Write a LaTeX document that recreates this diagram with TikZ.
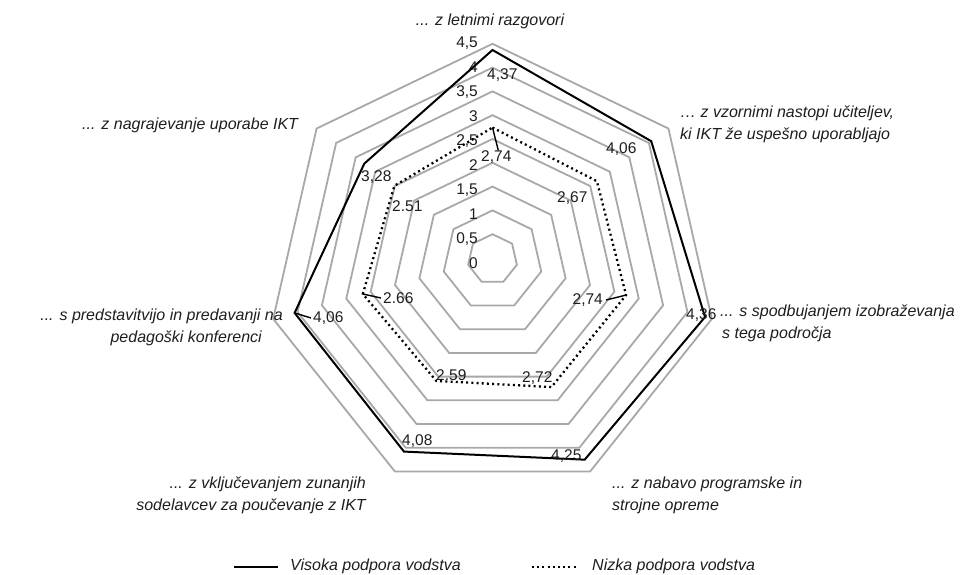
\documentclass[tikz,border=0pt]{standalone}
\usepackage{fontspec}
\setmainfont{Liberation Sans}
\definecolor{ringgray}{RGB}{168,168,168}
\definecolor{txt}{RGB}{30,30,30}
\newcommand\mkpt[3]{\coordinate (#1) at ({492.5+50*#2*cos(90-#3*360/7)},{258+2.4*#2-50*#2*sin(90-#3*360/7)});}
\begin{document}
\begin{tikzpicture}[x=1pt,y=-1pt,
  ring/.style={draw=ringgray, line width=1.8pt, line join=miter},
  hiline/.style={draw=black, line width=2pt, line join=miter},
  loline/.style={draw=black, line width=2.3pt, dash pattern=on 2pt off 3.2pt},
  leader/.style={draw=black, line width=1.4pt},
  num/.style={font=\fontsize{15.5}{18}\selectfont, text=txt, inner sep=0pt},
  cat/.style={font=\fontsize{16}{19}\selectfont\itshape, text=txt, inner sep=0pt}]
\useasboundingbox (0,0) rectangle (965,574);
\fill[white] (0,0) rectangle (965,574);
% rings
\foreach \v in {0.5,1.0,1.5,2.0,2.5,3.0,3.5,4.0,4.5} {
  \foreach \i in {0,...,6} { \mkpt{r\i}{\v}{\i} }
  \draw[ring] (r0) -- (r1) -- (r2) -- (r3) -- (r4) -- (r5) -- (r6) -- cycle;
}
% ring labels
\node[num, anchor=east] (rl0) at (478,43) {4,5};
\node[num, anchor=east] (rl1) at (478,67.5) {4};
\node[num, anchor=east] (rl2) at (478,92) {3,5};
\node[num, anchor=east] (rl3) at (478,116.5) {3};
\node[num, anchor=east] (rl4) at (478,141) {2,5};
\node[num, anchor=east] (rl5) at (478,165.5) {2};
\node[num, anchor=east] (rl6) at (478,190) {1,5};
\node[num, anchor=east] (rl7) at (478,214.5) {1};
\node[num, anchor=east] (rl8) at (478,239) {0,5};
\node[num, anchor=east] (rl9) at (478,263.5) {0};
% data points
\mkpt{h0}{4.37}{0} \mkpt{h1}{4.06}{1} \mkpt{h2}{4.36}{2} \mkpt{h3}{4.25}{3}
\mkpt{h4}{4.08}{4} \mkpt{h5}{4.06}{5} \mkpt{h6}{3.28}{6}
\mkpt{l0}{2.74}{0} \mkpt{l1}{2.67}{1} \mkpt{l2}{2.74}{2} \mkpt{l3}{2.72}{3}
\mkpt{l4}{2.59}{4} \mkpt{l5}{2.66}{5} \mkpt{l6}{2.51}{6}
\draw[hiline] (h0) -- (h1) -- (h2) -- (h3) -- (h4) -- (h5) -- (h6) -- cycle;
\draw[loline] (l0) -- (l1) -- (l2) -- (l3) -- (l4) -- (l5) -- (l6) -- cycle;
% data labels
\node[num, anchor=west] (dh0) at (487,75) {4,37};
\node[num, anchor=west] (dh1) at (606,149) {4,06};
\node[num, anchor=west] (dh2) at (686,315) {4,36};
\node[num, anchor=west] (dh3) at (551,456) {4,25};
\node[num, anchor=west] (dh4) at (402,441) {4,08};
\node[num, anchor=west] (dh5) at (313,318) {4,06};
\node[num, anchor=west] (dh6) at (361,177) {3,28};
\node[num, anchor=west] (dl0) at (481,157) {2,74};
\node[num, anchor=west] (dl1) at (557,198) {2,67};
\node[num, anchor=east] (dl2) at (603,300) {2,74};
\node[num, anchor=west] (dl3) at (522,378) {2,72};
\node[num, anchor=west] (dl4) at (436,375) {2.59};
\node[num, anchor=west] (dl5) at (383,298) {2.66};
\node[num, anchor=west] (dl6) at (392,206) {2.51};
% leader lines
\draw[leader] (l0) -- ([xshift=2pt]dl0.north);
\draw[leader] ([xshift=3pt]dl2.east) -- (l2);
\draw[leader] (l5) -- ([xshift=-2pt]dl5.west);
\draw[leader] (h5) -- ([xshift=-2pt]dh5.west);
% category labels
\node[cat] (c0) at (490,21) {... z letnimi razgovori};
\node[cat, anchor=west] (c1a) at (680,113) {… z vzornimi nastopi učiteljev,};
\node[cat, anchor=west] (c1b) at (680,135) {ki IKT že uspešno uporabljajo};
\node[cat, anchor=west] (c2a) at (720,312) {... s spodbujanjem izobraževanja};
\node[cat, anchor=west] (c2b) at (722,334) {s tega področja};
\node[cat, anchor=west] (c3a) at (612,484) {... z nabavo programske in};
\node[cat, anchor=west] (c3b) at (612,506) {strojne opreme};
\node[cat, anchor=east] (c4a) at (366,484) {... z vključevanjem zunanjih};
\node[cat, anchor=east] (c4b) at (366,506) {sodelavcev za poučevanje z IKT};
\node[cat, anchor=east] (c5a) at (283,316) {... s predstavitvijo in predavanji na};
\node[cat, anchor=east] (c5b) at (262,338) {pedagoški konferenci};
\node[cat, anchor=west] (c6) at (82,125) {... z nagrajevanje uporabe IKT};
% legend
\coordinate (lg1a) at (234,567); \coordinate (lg1b) at (278,567);
\coordinate (lg2a) at (532,567); \coordinate (lg2b) at (576,567);
\draw[hiline, line width=2.4pt] (lg1a) -- (lg1b);
\draw[loline] (lg2a) -- (lg2b);
\node[cat, anchor=west] (lt1) at (290,566) {Visoka podpora vodstva};
\node[cat, anchor=west] (lt2) at (592,566) {Nizka podpora vodstva};
\end{tikzpicture}
\end{document}
